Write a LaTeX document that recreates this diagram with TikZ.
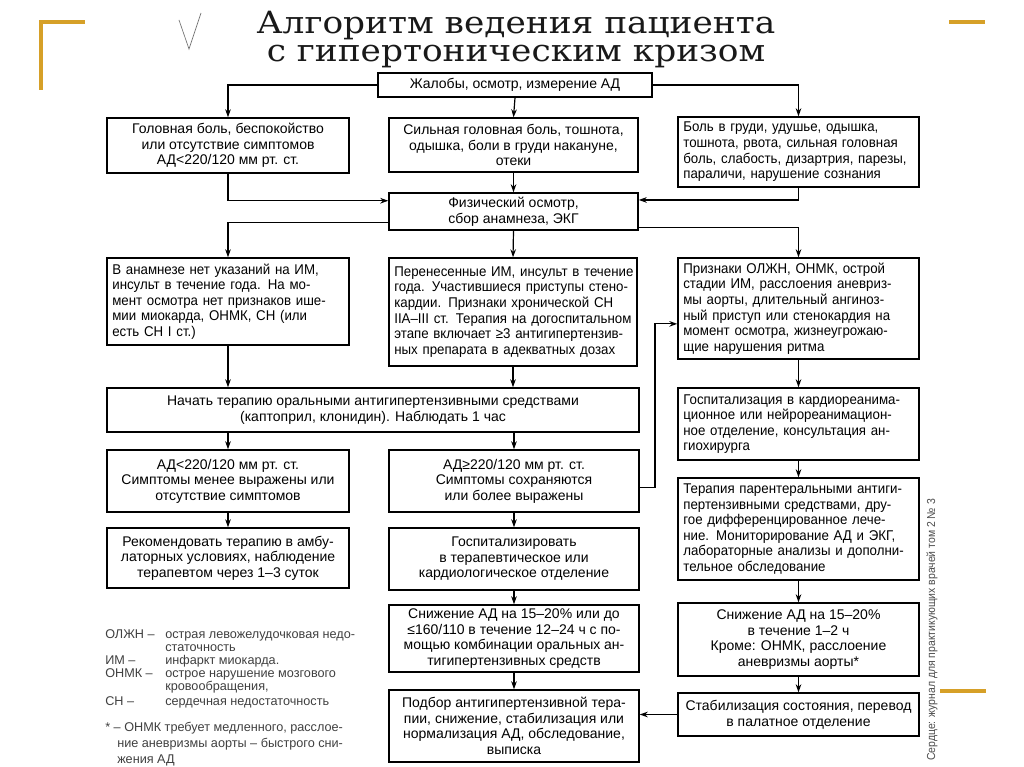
\documentclass[tikz,border=0pt]{standalone}
\usepackage{fontspec}
\setmainfont{Liberation Sans}
\newfontfamily\titlefont[FakeStretch=1.12]{DejaVu Serif}
\newfontfamily\narrowfont[FakeStretch=0.9]{Liberation Sans}
\newfontfamily\jfont[FakeStretch=0.94]{Liberation Sans}
\usetikzlibrary{arrows.meta,calc}
\definecolor{gold}{RGB}{214,160,40}
\newcommand{\boxfont}{\fontsize{10.5}{11.7}\selectfont\hyphenpenalty=10000 }
\newcommand{\jboxfont}{\jfont\fontsize{10.6}{11.7}\selectfont\hyphenpenalty=10000 }
\newcommand{\jl}[1]{\makebox[\hsize][s]{#1}}
\begin{document}
\begin{tikzpicture}[x=0.75pt,y=-0.75pt,
  box/.style={draw=black, line width=1.1pt, inner xsep=4pt, inner ysep=2pt, font=\boxfont, align=center},
  jbox/.style={box, align=left, font=\jboxfont},
  conn/.style={line width=0.9pt, -{Stealth[length=6pt,width=4.2pt]}},
  legend/.style={anchor=base west, font=\fontsize{9.5}{11}\selectfont, text=black!75, inner sep=0pt},
  ttl/.style={anchor=base, font=\titlefont\fontsize{23}{23}\selectfont, inner sep=0pt, text=black!90},
  deco/.style={draw=gold, line width=2.4pt}]
\fill[white] (0,0) rectangle (1024,767);
\useasboundingbox (0,0) rectangle (1024,767);

% decorations
\draw[deco] (41,90) -- (41,22) -- (85,22);
\draw[deco] (949,22) -- (985,22);
\draw[deco] (940,691) -- (986,691);
\draw[black!55, line width=0.5pt] (179,20) -- (189,49) -- (201,13);

% title
\node[ttl] (t1) at (516,34) {Алгоритм ведения пациента};
\node[ttl] (t2) at (516,62) {с гипертоническим кризом};

% boxes
\node[box, minimum width=205.5pt, minimum height=18pt] (B0) at (515,85) {Жалобы, осмотр, измерение АД};

\node[box, minimum width=181.5pt, minimum height=41.25pt] (B1L) at (228,145.5)
  {Головная боль, беспокойство\\или отсутствие симптомов\\АД<220/120 мм рт. ст.};
\node[box, minimum width=186.75pt, minimum height=40.5pt] (B1M) at (513.5,145)
  {Сильная головная боль, тошнота,\\одышка, боли в груди накануне,\\отеки};
\node[jbox, text width=172.75pt, minimum height=52.5pt] (B1R) at (798.5,152)
  {\jl{Боль в груди, удушье, одышка,}\\\jl{тошнота, рвота, сильная головная}\\\jl{боль, слабость, дизартрия, парезы,}\\параличи, нарушение сознания};

\node[box, minimum width=186.75pt, minimum height=27.75pt] (B2) at (513.5,211.5)
  {Физический осмотр,\\сбор анамнеза, ЭКГ};

\node[jbox, text width=173.5pt, minimum height=65.25pt] (B3L) at (228,301.5)
  {\jl{В анамнезе нет указаний на ИМ,}\\\jl{инсульт в течение года. На мо-}\\\jl{мент осмотра нет признаков ише-}\\\jl{мии миокарда, ОНМК, СН (или}\\есть СН I ст.)};
\node[jbox, text width=178pt, minimum height=81pt] (B3M) at (513,312)
  {\jl{Перенесенные ИМ, инсульт в течение}\\\jl{года. Участившиеся приступы стено-}\\\jl{кардии. Признаки хронической СН}\\\jl{IIA–III ст. Терапия на догоспитальном}\\\jl{этапе включает ≥3 антигипертензив-}\\ных препарата в адекватных дозах};
\node[jbox, text width=172.75pt, minimum height=75.75pt] (B3R) at (798.5,308.5)
  {\jl{Признаки ОЛЖН, ОНМК, острой}\\\jl{стадии ИМ, расслоения аневриз-}\\\jl{мы аорты, длительный ангиноз-}\\\jl{ный приступ или стенокардия на}\\\jl{момент осмотра, жизнеугрожаю-}\\щие нарушения ритма};

\node[box, minimum width=399pt, minimum height=33pt] (B4) at (373,410)
  {Начать терапию оральными антигипертензивными средствами\\(каптоприл, клонидин). Наблюдать 1 час};
\node[jbox, text width=172.75pt, minimum height=54pt] (B4R) at (798.5,424)
  {\jl{Госпитализация в кардиореанима-}\\\jl{ционное или нейрореанимацион-}\\\jl{ное отделение, консультация ан-}\\гиохирурга};

\node[box, minimum width=181.5pt, minimum height=46.5pt] (B5L) at (228,481)
  {АД<220/120 мм рт. ст.\\Симптомы менее выражены или\\отсутствие симптомов};
\node[box, minimum width=187.5pt, minimum height=46.5pt] (B5M) at (514,481)
  {АД≥220/120 мм рт. ст.\\Симптомы сохраняются\\или более выражены};

\node[box, minimum width=181.5pt, minimum height=45pt] (B6L) at (228,558)
  {Рекомендовать терапию в амбу-\\латорных условиях, наблюдение\\терапевтом через 1–3 суток};
\node[box, minimum width=187.5pt, minimum height=46.5pt] (B6M) at (514,559)
  {Госпитализировать\\в терапевтическое или\\кардиологическое отделение};

\node[jbox, text width=172.75pt, minimum height=76.5pt] (B5R) at (798.5,529)
  {\jl{Терапия парентеральными антиги-}\\\jl{пертензивными средствами, дру-}\\\jl{гое дифференцированное лече-}\\\jl{ние. Мониторирование АД и ЭКГ,}\\\jl{лабораторные анализы и дополни-}\\тельное обследование};

\node[box, minimum width=187.5pt, minimum height=50.25pt] (B7M) at (514,638.5)
  {Снижение АД на 15–20\% или до\\≤160/110 в течение 12–24 ч с по-\\мощью комбинации оральных ан-\\тигипертензивных средств};
\node[box, minimum width=180.75pt, minimum height=54.75pt] (B7R) at (798.5,639.5)
  {Снижение АД на 15–20\%\\в течение 1–2 ч\\Кроме: ОНМК, расслоение\\аневризмы аорты*};

\node[box, minimum width=187.5pt, minimum height=54pt] (B8M) at (514,726)
  {Подбор антигипертензивной тера-\\пии, снижение, стабилизация или\\нормализация АД, обследование,\\выписка};
\node[box, minimum width=180.75pt, minimum height=32.25pt] (B8R) at (798.5,714.5)
  {Стабилизация состояния, перевод\\в палатное отделение};

% connectors
\draw[conn] (B0.west) -| (B1L.north);
\draw[conn] (B0.east) -| (B1R.north);
\draw[conn] (B0.south) -- (B1M.north);
\coordinate (inL) at ($(B2.north west)!0.22!(B2.south west)$);
\coordinate (inR) at ($(B2.north east)!0.2!(B2.south east)$);
\coordinate (outL) at ($(B2.north west)!0.78!(B2.south west)$);
\coordinate (outR) at ($(B2.north east)!0.92!(B2.south east)$);
\draw[conn] (B1L.south) |- (inL);
\draw[conn] (B1R.south) |- (inR);
\draw[conn] (B1M.south) -- (B2.north);
\draw[conn] (outL) -| (B3L.north);
\draw[conn] (outR) -| (B3R.north);
\draw[conn] (B2.south) -- (B3M.north);
\draw[conn] (B3L.south) -- (B3L.south |- B4.north);
\draw[conn] (B3M.south) -- (B3M.south |- B4.north);
\draw[conn] (B3R.south) -- (B4R.north);
\draw[conn] (B5L.north |- B4.south) -- (B5L.north);
\draw[conn] (B5M.north |- B4.south) -- (B5M.north);
\coordinate (J) at (655,0);
\coordinate (o5) at ($(B5M.north east)!0.6!(B5M.south east)$);
\coordinate (i3) at ($(B3R.north west)!0.65!(B3R.south west)$);
\draw[conn] (o5) -- (J |- o5) -- (J |- i3) -- (i3);
\draw[conn] (B5L.south) -- (B6L.north);
\draw[conn] (B5M.south) -- (B6M.north);
\draw[conn] (B6M.south) -- (B7M.north);
\draw[conn] (B4R.south) -- (B5R.north);
\draw[conn] (B5R.south) -- (B7R.north);
\draw[conn] (B7R.south) -- (B8R.north);
\draw[conn] (B7M.south) -- (B8M.north);
\draw[conn] (B8R.west) -- (B8M.east |- B8R.west);

% legend
\node[legend] (l1a) at (105,638) {ОЛЖН –};
\node[legend] (l1b) at (165,638) {острая левожелудочковая недо-};
\node[legend] (l1c) at (165,651) {статочность};
\node[legend] (l2a) at (105,664) {ИМ –};
\node[legend] (l2b) at (165,664) {инфаркт миокарда.};
\node[legend] (l3a) at (105,677) {ОНМК –};
\node[legend] (l3b) at (165,677) {острое нарушение мозгового};
\node[legend] (l3c) at (165,690) {кровообращения,};
\node[legend] (l4a) at (105,705) {СН –};
\node[legend] (l4b) at (165,705) {сердечная недостаточность};
\node[legend] (l5a) at (105,731) {* – ОНМК требует медленного, расслое-};
\node[legend] (l5b) at (117,747) {ние аневризмы аорты – быстрого сни-};
\node[legend] (l5c) at (117,763) {жения АД};

% source
\node[rotate=90, font=\narrowfont\fontsize{8.7}{9}\selectfont, text=black!70, inner sep=0pt] (src) at (932,630)
  {Сердце: журнал для практикующих врачей том 2 № 3};
\end{tikzpicture}
\end{document}
